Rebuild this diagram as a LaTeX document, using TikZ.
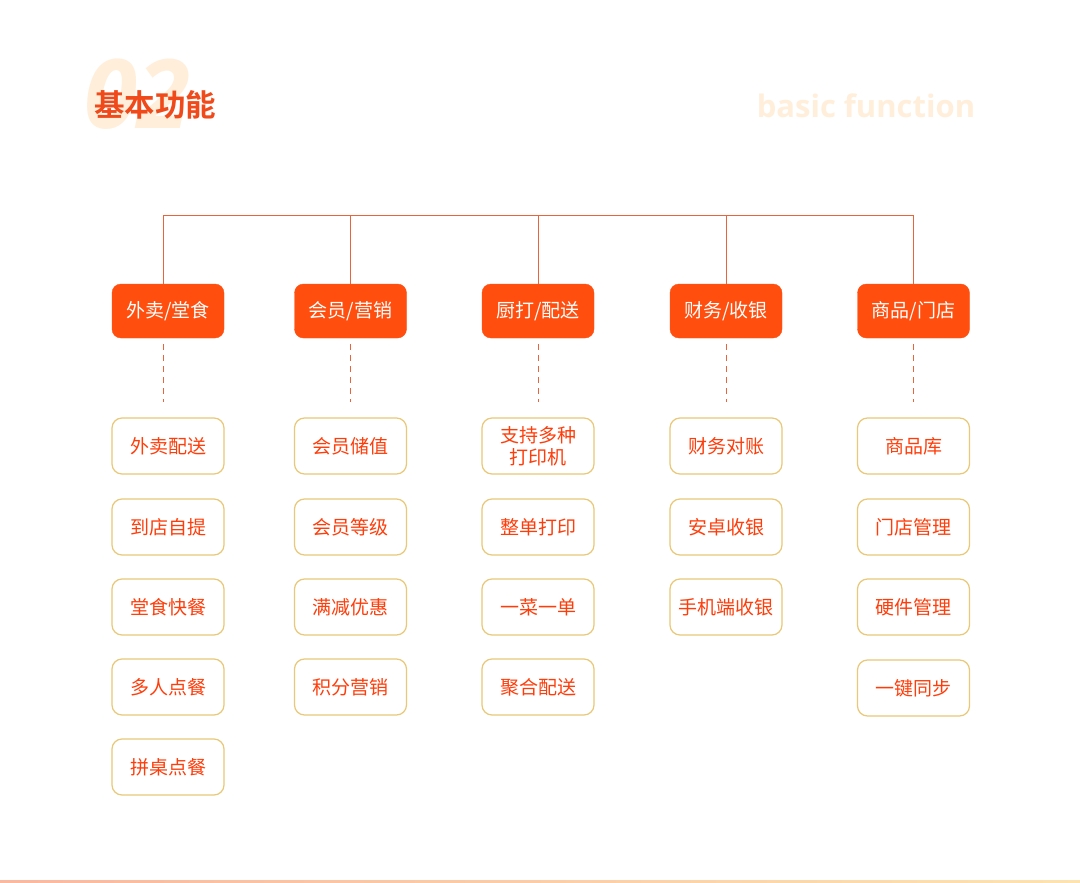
\documentclass[tikz,border=0pt]{standalone}
\usepackage{fontspec}
\setmainfont{Noto Sans CJK SC}
\newfontfamily\cjkb{Noto Sans CJK SC Bold}
\newfontfamily\latb{Open Sans Bold}
\usetikzlibrary{calc}
\definecolor{hdr}{HTML}{FF4E0E}
\definecolor{txt}{HTML}{FF3D0A}
\definecolor{gold}{HTML}{E9C878}
\definecolor{lineC}{HTML}{E8643A}
\definecolor{peach}{HTML}{FFEFDA}
\definecolor{title}{HTML}{F04A1A}
\tikzset{
  hdrbox/.style={draw=hdr, fill=hdr, rounded corners=9pt, minimum width=112pt, minimum height=54pt, text=white, font=\fontsize{19pt}{22pt}\selectfont, inner sep=0pt},
  subbox/.style={draw=gold, line width=1.2pt, fill=white, rounded corners=10pt, minimum width=112pt, minimum height=56pt, text=txt, font=\fontsize{19pt}{22pt}\selectfont, inner sep=0pt, align=center},
  tree/.style={draw=lineC, line width=1pt},
  dash line/.style={draw=lineC, line width=1pt, dash pattern=on 6pt off 5pt}
}
\begin{document}
\begin{tikzpicture}[x=1pt,y=-1pt]
\useasboundingbox (0,0) rectangle (1080,883);
\fill[white] (0,0) rectangle (1080,883);
% title
\node[text=peach, font=\latb\fontsize{96pt}{96pt}\selectfont\itshape, anchor=center, inner sep=0pt] (num) at (137,94) {02};
\node[text=title, font=\cjkb\fontsize{30.5pt}{34pt}\selectfont, anchor=west, inner sep=0pt] (ttl) at (94,105) {基本功能};
\node[text=peach, font=\latb\fontsize{31pt}{34pt}\selectfont, anchor=center, inner sep=0pt] (sub) at (866,106) {basic function};
% headers
\node[hdrbox] (h1) at (168,311) {外卖/堂食};
\node[hdrbox] (h2) at (350.5,311) {会员/营销};
\node[hdrbox] (h3) at (538,311) {厨打/配送};
\node[hdrbox] (h4) at (726,311) {财务/收银};
\node[hdrbox] (h5) at (913.5,311) {商品/门店};
% tree lines
\coordinate (t1) at (163,215);
\coordinate (t2) at (350,215);
\coordinate (t3) at (538,215);
\coordinate (t4) at (726,215);
\coordinate (t5) at (913,215);
\draw[tree] (t1) -- (t5);
\foreach \i in {1,2,3,4,5} \draw[tree] (t\i) -- (t\i |- h\i.north);
% sub boxes column 1
\node[subbox] (a1) at (168,446) {外卖配送};
\node[subbox] (a2) at (168,527) {到店自提};
\node[subbox] (a3) at (168,607) {堂食快餐};
\node[subbox] (a4) at (168,687) {多人点餐};
\node[subbox] (a5) at (168,767) {拼桌点餐};
% column 2
\node[subbox] (b1) at (350.5,446) {会员储值};
\node[subbox] (b2) at (350.5,527) {会员等级};
\node[subbox] (b3) at (350.5,607) {满减优惠};
\node[subbox] (b4) at (350.5,687) {积分营销};
% column 3
\node[subbox, font=\fontsize{19pt}{22pt}\selectfont] (c1) at (538,446) {支持多种\\打印机};
\node[subbox] (c2) at (538,527) {整单打印};
\node[subbox] (c3) at (538,607) {一菜一单};
\node[subbox] (c4) at (538,687) {聚合配送};
% column 4
\node[subbox] (d1) at (726,446) {财务对账};
\node[subbox] (d2) at (726,527) {安卓收银};
\node[subbox] (d3) at (726,607) {手机端收银};
% column 5
\node[subbox] (e1) at (913.5,446) {商品库};
\node[subbox] (e2) at (913.5,527) {门店管理};
\node[subbox] (e3) at (913.5,607) {硬件管理};
\node[subbox] (e4) at (913.5,688) {一键同步};
% dashed connectors
\draw[dash line] ($(t1 |- h1.south)+(0,6)$) -- ($(t1 |- a1.north)+(0,-15)$);
\draw[dash line] ($(t2 |- h2.south)+(0,6)$) -- ($(t2 |- b1.north)+(0,-15)$);
\draw[dash line] ($(t3 |- h3.south)+(0,6)$) -- ($(t3 |- c1.north)+(0,-15)$);
\draw[dash line] ($(t4 |- h4.south)+(0,6)$) -- ($(t4 |- d1.north)+(0,-15)$);
\draw[dash line] ($(t5 |- h5.south)+(0,6)$) -- ($(t5 |- e1.north)+(0,-15)$);
% bottom line
\shade[left color={rgb,255:red,249;green,184;blue,160}, right color={rgb,255:red,252;green,227;blue,176}] (0,880) rectangle (1080,882);
\end{tikzpicture}
\end{document}
